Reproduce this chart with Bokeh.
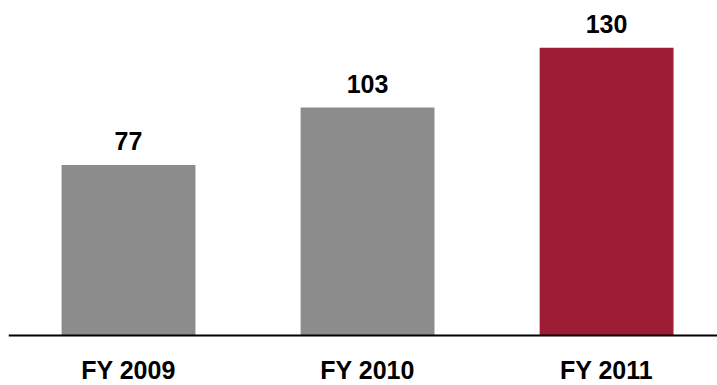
from bokeh.plotting import figure
from bokeh.models import Range1d, ColumnDataSource, LabelSet, Span
from bokeh.core.properties import value
from bokeh.embed import file_html
from bokeh.resources import INLINE

categories = ["FY 2009", "FY 2010", "FY 2011"]
values = [77, 103, 130]
colors = ["#8c8c8c", "#8c8c8c", "#9e1c36"]
labels = [str(v) for v in values]

xs = list(range(len(categories)))
src = ColumnDataSource(dict(x=xs, top=values, color=colors, label=labels,
                            cat=categories, zero=[0] * len(xs)))

p = figure(width=717, height=385, output_backend="svg", toolbar_location=None,
           x_range=Range1d(-0.502, 2.464), y_range=Range1d(-22.6, 151.4),
           x_axis_location=None, y_axis_location=None,
           min_border_left=8, min_border_right=0,
           min_border_top=0, min_border_bottom=0)
p.outline_line_color = None
p.grid.visible = False
p.background_fill_color = "white"
p.border_fill_color = "white"

p.vbar(x="x", top="top", bottom=0, width=0.56, color="color", source=src, line_color=None)

p.add_layout(Span(location=0, dimension="width", line_color="#000000", line_width=2))

p.add_layout(LabelSet(x="x", y="top", text="label", source=src, text_align="center",
                      text_baseline="alphabetic", y_offset=15,
                      text_font=value("Liberation Sans"), text_font_style="bold",
                      text_font_size="25px", text_color="#000000"))
p.text(x="x", y="zero", text="cat", source=src, text_align="center",
       text_baseline="alphabetic", y_offset=35,
       text_font=value("Liberation Sans"), text_font_style="bold",
       text_font_size="25px", text_color="#000000")

open("out.html", "w").write(file_html(p, INLINE))
